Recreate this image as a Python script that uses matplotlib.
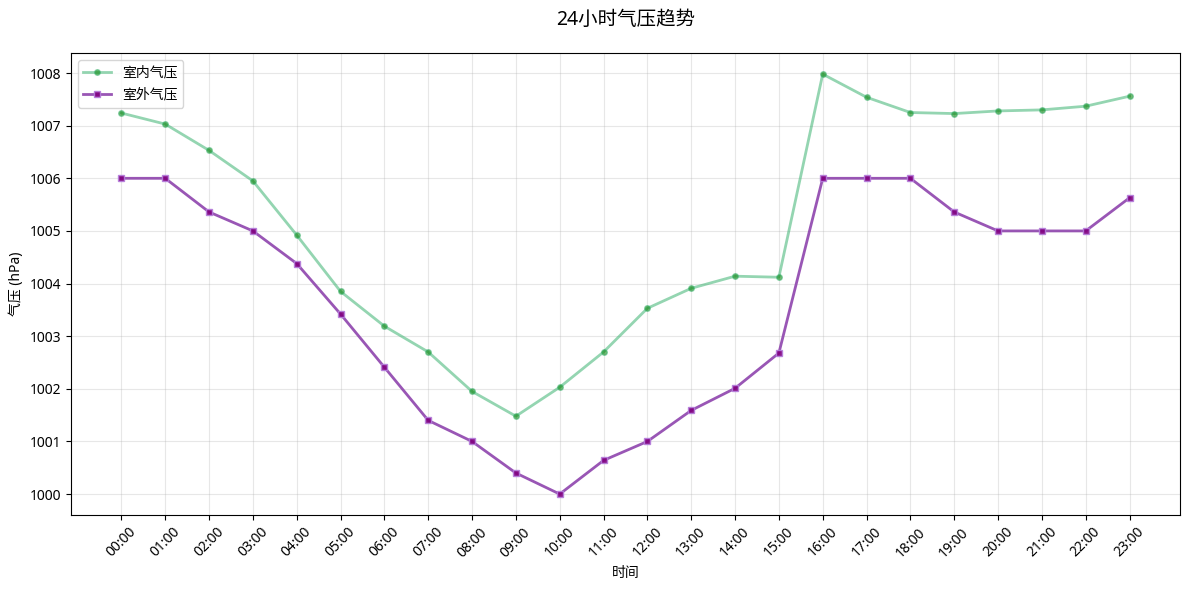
import matplotlib.pyplot as plt
import numpy as np

plt.rcParams['font.family'] = ['Noto Sans', 'Noto Sans CJK SC', 'DejaVu Sans']
plt.rcParams['axes.unicode_minus'] = False

hours = [f"{h:02d}:00" for h in range(24)]
indoor = [1007.24, 1007.03, 1006.53, 1005.95, 1004.92, 1003.85, 1003.19, 1002.70,
          1001.95, 1001.48, 1002.03, 1002.70, 1003.53, 1003.91, 1004.14, 1004.12,
          1007.98, 1007.54, 1007.25, 1007.23, 1007.28, 1007.30, 1007.37, 1007.56]
outdoor = [1006.0, 1006.0, 1005.36, 1005.0, 1004.38, 1003.42, 1002.41, 1001.40,
           1001.0, 1000.40, 1000.0, 1000.64, 1001.0, 1001.59, 1002.01, 1002.68,
           1006.0, 1006.0, 1006.0, 1005.36, 1005.0, 1005.0, 1005.0, 1005.63]

fig, ax = plt.subplots(figsize=(11.89, 5.9), dpi=100)
x = np.arange(len(hours))

ax.plot(x, indoor, color='#3cb371', alpha=0.55, linewidth=2, marker='o', markersize=4,
        markerfacecolor='green', markeredgecolor='#3cb371', label='室内气压')
ax.plot(x, outdoor, color='#8e44ad', alpha=0.9, linewidth=2, marker='s', markersize=5,
        markerfacecolor='purple', markeredgecolor='#b57edc', label='室外气压')

ax.set_xticks(x)
ax.set_xticklabels(hours, rotation=45)
ax.set_xlabel('时间')
ax.set_ylabel('气压 (hPa)')
ax.set_title('24小时气压趋势', fontsize=14, pad=20)
ax.grid(True, alpha=0.3)
ax.legend(loc='upper left')

fig.subplots_adjust(left=0.0597, right=0.9924, top=0.910, bottom=0.127)
fig.savefig('out.png', dpi=100)
